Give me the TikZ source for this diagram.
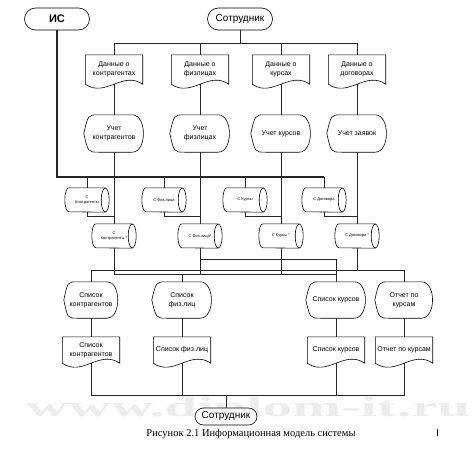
\documentclass[tikz,border=0pt]{standalone}
\usepackage{fontspec}
\setmainfont{Liberation Sans}
\newfontfamily\capfont{Liberation Serif}
\usetikzlibrary{calc}
\tikzset{
  term/.style={draw=black,fill=white,line width=.6pt,rounded corners=11pt,minimum width=65pt,minimum height=22pt,inner sep=1pt,font=\fontsize{10}{12}\selectfont},
  doc/.style={minimum width=57pt,minimum height=29pt,inner sep=1pt,align=center,font=\fontsize{7}{9}\selectfont},
  disp/.style={minimum width=60pt,minimum height=37pt,inner sep=1pt,align=center,font=\fontsize{7}{9}\selectfont},
  cyl/.style={minimum width=44pt,minimum height=24pt,inner sep=.5pt,align=center,font=\fontsize{4}{5}\selectfont},
  outl/.style={draw=black,line width=.6pt},
  ln/.style={draw=black!85,line width=.55pt},
  lnb/.style={ln,line width=1.2pt},
}
\begin{document}
\begin{tikzpicture}[x=1pt,y=-1pt]
  \useasboundingbox (0,0) rectangle (473,460);
  \node[font=\capfont\bfseries\fontsize{28}{28}\selectfont,text=black!7,xscale=2.1] (wm) at (248,410) {www.diplom-it.ru};

  % top
  \node[term,font=\bfseries\fontsize{11}{13}\selectfont] (is) at (57,19) {ИС};
  \node[term] (emp) at (240,19) {Сотрудник};

  \node[doc] (d1) at (114,69.5) {Данные о\\контрагентах};
  \node[doc] (d2) at (200,69.5) {Данные о\\физлицах};
  \node[doc] (d3) at (281,69.5) {Данные о\\курсах};
  \node[doc] (d4) at (357,69.5) {Данные о\\договорах};

  \node[disp] (u1) at (114,133.5) {Учет\\контрагентов};
  \node[disp] (u2) at (200,133.5) {Учет\\физлицах};
  \node[disp] (u3) at (281,133.5) {Учет курсов};
  \node[disp] (u4) at (357,133.5) {Учет заявок};

  % stores
  \node[cyl] (c1) at (87,200) {С\\Контрагенты};
  \node[cyl] (c2) at (164,200) {С Физ.лица};
  \node[cyl] (c3) at (245,200) {С Курсы};
  \node[cyl] (c4) at (324,200) {С Договора};
  \node[cyl] (k1) at (114,236) {С\\Контрагенты *};
  \node[cyl] (k2) at (200,236) {С Физ.лица*};
  \node[cyl] (k3) at (281,236) {С Курсы *};
  \node[cyl] (k4) at (357,236) {С Договора *};

  % bottom
  \node[disp,minimum width=54pt,minimum height=36pt] (l1) at (91,300) {Список\\контрагентов};
  \node[disp,minimum height=36pt] (l2) at (182,300) {Список\\физ.лиц};
  \node[disp,minimum height=36pt] (l3) at (336,300) {Список курсов};
  \node[disp,minimum width=58pt,minimum height=36pt] (l4) at (404,300) {Отчет по\\курсам};

  \node[doc,minimum height=26pt] (m1) at (91,350) {Список\\контрагентов};
  \node[doc,minimum height=26pt] (m2) at (182,350) {Список физ.лиц};
  \node[doc,minimum height=26pt] (m3) at (336,350) {Список курсов};
  \node[doc,minimum height=26pt] (m4) at (404,350) {Отчет по курсам};

  \node[term,minimum width=62pt,minimum height=17pt,rounded corners=8.5pt] (emp2) at (226,416.5) {Сотрудник};
  \node[font=\capfont\fontsize{10.5}{12}\selectfont] (cap) at (251,434) {Рисунок 2.1 Информационная модель системы};
  \draw[line width=.9pt] (437,429) -- (437,436);

  % outlines
  \foreach \n in {d1,d2,d3,d4,m1,m2,m3,m4}
    \draw[outl] (\n.south west) -- (\n.north west) -- (\n.north east) -- (\n.south east)
      .. controls ($(\n.south east)!.35!(\n.south west)+(0,14pt)$) and ($(\n.south east)!.65!(\n.south west)+(0,-14pt)$) .. (\n.south west) -- cycle;
  \foreach \n in {u1,u2,u3,u4,l1,l2,l3,l4}
    \draw[outl] (\n.west) .. controls ($(\n.north west)!.07!(\n.north east)$) .. ($(\n.north west)!.25!(\n.north east)$)
      -- ($(\n.north west)!.8!(\n.north east)$) .. controls ([xshift=3pt]\n.north east) and ([xshift=3pt]\n.south east) .. ($(\n.south west)!.8!(\n.south east)$)
      -- ($(\n.south west)!.25!(\n.south east)$) .. controls ($(\n.south west)!.07!(\n.south east)$) .. (\n.west) -- cycle;
  \foreach \n in {c1,c2,c3,c4,k1,k2,k3,k4} {
    \draw[outl] ([xshift=-4pt]\n.north east) -- ([xshift=4pt]\n.north west) arc[start angle=90,end angle=270,x radius=4pt,y radius=12pt] -- ([xshift=-4pt]\n.south east);
    \draw[outl] ([xshift=-4pt]\n.east) ellipse [x radius=4pt,y radius=12pt];
  }

  % connectors
  \coordinate (isbus) at (324,177);
  \coordinate (empbus) at (240,43);
  \coordinate (jA) at (0,270);
  \coordinate (jB) at (0,274);
  \coordinate (jC) at (0,259);
  \coordinate (jF) at (0,395);

  \draw[lnb] (is.south) |- (isbus);
  \foreach \c in {c1,c2,c3} \draw[ln] (\c.north) -- (\c.north |- isbus);
  \draw[ln] (c4.north) -- (isbus);
  \draw[ln] (emp) -- (empbus);
  \draw[ln] (d1.north) |- (d4.north |- empbus) -- (d4.north);
  \foreach \d in {d2,d3} \draw[ln] (\d.north) -- (\d.north |- empbus);
  \foreach \i in {1,...,4} {
    \draw[ln] (d\i.south) -- (u\i.north);
    \draw[ln] (u\i.south) -- (k\i.north);
    \draw[ln] (c\i.south) |- ([yshift=8pt]k\i.north);
  }

  \draw[ln] (k1.south) -- (k1.south |- jB);
  \draw[ln,line width=.8pt] (l1.north) |- (l4.north |- jA) -- (l4.north);
  \draw[ln] (k4.south) -- (k4.south |- jA);
  \draw[ln] (k1.south |- jB) -| (l3.north);
  \draw[ln] (l2.north) -- (l2.north |- jB);
  \draw[ln] (k3.south) -- (k3.south |- jB);
  \draw[ln] (k2.south) -- (k2.south |- jB);
  \draw[ln] (k2.south |- jC) -| (l3.north);

  \foreach \i in {1,...,4} \draw[ln] (l\i.south) -- (m\i.north);
  \draw[ln] (m1.south) |- (m4.south |- jF) -- (m4.south);
  \foreach \m in {m2,m3} \draw[ln] (\m.south) -- (\m.south |- jF);
  \draw[ln] (emp2.north) -- (emp2.north |- jF);
\end{tikzpicture}
\end{document}
